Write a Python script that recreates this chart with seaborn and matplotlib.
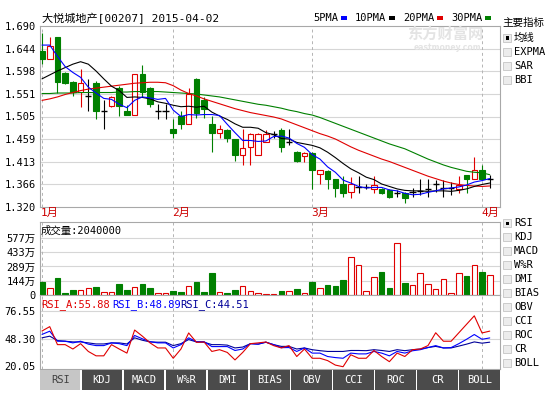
import numpy as np
import pandas as pd
import matplotlib
matplotlib.use("Agg")
import matplotlib.pyplot as plt
from matplotlib.patches import Rectangle
import seaborn as sns

# ---------------- data ----------------
holidays = ["2015-02-19", "2015-02-20"]
dates = [d for d in pd.bdate_range("2015-01-08", "2015-04-02")
         if d.strftime("%Y-%m-%d") not in holidays]

open_ = [1.639, 1.622, 1.668, 1.593, 1.575, 1.556, 1.546, 1.574, 1.517, 1.527,
         1.564, 1.517, 1.508, 1.592, 1.563, 1.516, 1.516, 1.479, 1.507, 1.490,
         1.582, 1.538, 1.489, 1.472, 1.478, 1.460, 1.426, 1.443, 1.426, 1.453,
         1.470, 1.478, 1.453, 1.432, 1.424, 1.431, 1.387, 1.394, 1.377, 1.367,
         1.350, 1.360, 1.360, 1.356, 1.356, 1.355, 1.349, 1.348, 1.351, 1.353,
         1.356, 1.368, 1.358, 1.358, 1.356, 1.385, 1.378, 1.395, 1.377]
high = [1.676, 1.668, 1.668, 1.595, 1.577, 1.602, 1.582, 1.578, 1.538, 1.546,
        1.568, 1.529, 1.592, 1.611, 1.565, 1.531, 1.531, 1.500, 1.517, 1.563,
        1.584, 1.544, 1.507, 1.488, 1.480, 1.460, 1.480, 1.471, 1.471, 1.478,
        1.476, 1.481, 1.480, 1.434, 1.432, 1.432, 1.396, 1.396, 1.378, 1.383,
        1.382, 1.383, 1.368, 1.383, 1.358, 1.356, 1.355, 1.350, 1.358, 1.378,
        1.378, 1.376, 1.375, 1.372, 1.383, 1.386, 1.422, 1.405, 1.385]
low = [1.612, 1.622, 1.554, 1.572, 1.546, 1.525, 1.517, 1.499, 1.480, 1.525,
       1.507, 1.508, 1.508, 1.544, 1.525, 1.499, 1.499, 1.462, 1.480, 1.490,
       1.501, 1.501, 1.432, 1.462, 1.453, 1.414, 1.405, 1.405, 1.426, 1.453,
       1.462, 1.432, 1.446, 1.412, 1.412, 1.356, 1.368, 1.356, 1.341, 1.340,
       1.339, 1.349, 1.356, 1.349, 1.346, 1.339, 1.341, 1.329, 1.341, 1.344,
       1.341, 1.351, 1.341, 1.345, 1.348, 1.348, 1.377, 1.376, 1.358]
close = [1.622, 1.649, 1.575, 1.574, 1.555, 1.574, 1.546, 1.517, 1.517, 1.544,
         1.527, 1.508, 1.592, 1.555, 1.531, 1.516, 1.516, 1.472, 1.489, 1.552,
         1.513, 1.521, 1.472, 1.479, 1.462, 1.426, 1.441, 1.470, 1.470, 1.470,
         1.470, 1.443, 1.453, 1.414, 1.431, 1.395, 1.395, 1.377, 1.358, 1.349,
         1.367, 1.360, 1.360, 1.365, 1.348, 1.340, 1.349, 1.338, 1.351, 1.353,
         1.356, 1.368, 1.358, 1.358, 1.365, 1.377, 1.395, 1.377, 1.377]
volume_wan = [127, 75, 168, 25, 52, 52, 75, 85, 31, 31,
              116, 52, 85, 116, 75, 20, 20, 38, 31, 93,
              127, 31, 227, 31, 20, 52, 93, 38, 20, 15,
              15, 41, 41, 65, 20, 127, 75, 103, 96, 152,
              385, 303, 36, 181, 232, 67, 530, 123, 105, 221,
              108, 64, 167, 25, 226, 191, 301, 232, 204]
ma5 = [1.651, 1.651, 1.628, 1.607, 1.595, 1.585, 1.565, 1.553, 1.542, 1.540,
       1.530, 1.523, 1.538, 1.545, 1.543, 1.540, 1.542, 1.518, 1.505, 1.509,
       1.508, 1.509, 1.509, 1.507, 1.489, 1.472, 1.456, 1.456, 1.454, 1.455,
       1.464, 1.465, 1.461, 1.450, 1.442, 1.427, 1.418, 1.402, 1.391, 1.375,
       1.369, 1.362, 1.359, 1.360, 1.360, 1.355, 1.353, 1.348, 1.345, 1.346,
       1.350, 1.353, 1.357, 1.359, 1.361, 1.365, 1.371, 1.374, 1.378]
ma10 = [1.582, 1.590, 1.598, 1.605, 1.612, 1.617, 1.612, 1.598, 1.582, 1.567,
        1.558, 1.544, 1.545, 1.544, 1.541, 1.535, 1.532, 1.528, 1.525, 1.526,
        1.524, 1.526, 1.514, 1.506, 1.499, 1.490, 1.483, 1.483, 1.481, 1.472,
        1.468, 1.460, 1.459, 1.452, 1.449, 1.446, 1.441, 1.432, 1.421, 1.409,
        1.398, 1.390, 1.381, 1.376, 1.367, 1.362, 1.357, 1.354, 1.353, 1.353,
        1.352, 1.353, 1.353, 1.352, 1.354, 1.357, 1.362, 1.366, 1.369]
ma20 = [1.538, 1.541, 1.545, 1.550, 1.554, 1.558, 1.561, 1.563, 1.565, 1.567,
        1.569, 1.571, 1.573, 1.574, 1.575, 1.575, 1.574, 1.568, 1.559, 1.552,
        1.547, 1.541, 1.536, 1.531, 1.526, 1.521, 1.517, 1.513, 1.510, 1.507,
        1.504, 1.500, 1.494, 1.488, 1.482, 1.476, 1.470, 1.465, 1.459, 1.451,
        1.443, 1.436, 1.430, 1.424, 1.418, 1.413, 1.407, 1.401, 1.395, 1.389,
        1.383, 1.378, 1.373, 1.369, 1.366, 1.364, 1.363, 1.362, 1.363]
ma30 = [1.552, 1.552, 1.553, 1.553, 1.553, 1.554, 1.554, 1.554, 1.554, 1.554,
        1.555, 1.555, 1.556, 1.556, 1.556, 1.556, 1.555, 1.554, 1.553, 1.552,
        1.551, 1.549, 1.547, 1.545, 1.542, 1.539, 1.536, 1.533, 1.530, 1.528,
        1.525, 1.522, 1.518, 1.515, 1.511, 1.508, 1.503, 1.497, 1.491, 1.485,
        1.479, 1.473, 1.467, 1.461, 1.455, 1.449, 1.444, 1.439, 1.432, 1.425,
        1.418, 1.412, 1.406, 1.401, 1.397, 1.393, 1.391, 1.390, 1.386]
rsi_a = [56.0, 60.5, 42.0, 42.0, 37.5, 43.0, 35.0, 30.5, 30.5, 42.0,
         37.5, 33.3, 57.0, 50.7, 43.8, 38.6, 38.6, 28.0, 37.5, 54.0,
         44.4, 44.7, 35.0, 36.8, 34.0, 26.3, 34.0, 43.0, 43.8, 44.7,
         41.0, 38.6, 41.0, 29.8, 37.5, 28.0, 28.0, 25.6, 21.0, 19.3,
         31.6, 28.0, 28.0, 36.0, 29.8, 24.5, 33.3, 29.8, 36.8, 37.5,
         41.0, 54.2, 45.5, 45.5, 54.2, 62.9, 71.6, 54.0, 55.88]
rsi_b = [52.5, 55.8, 45.5, 45.5, 43.8, 45.5, 42.5, 41.0, 41.0, 43.8,
         43.0, 41.0, 51.4, 48.0, 45.0, 43.8, 43.8, 38.6, 42.0, 49.0,
         45.0, 45.0, 40.0, 40.0, 40.0, 36.0, 37.5, 43.0, 42.5, 44.5,
         42.0, 38.9, 39.0, 35.0, 38.6, 33.3, 33.3, 29.8, 28.7, 28.0,
         33.3, 32.5, 32.5, 35.0, 33.3, 30.5, 35.0, 33.3, 35.7, 36.8,
         39.0, 41.0, 38.6, 39.0, 43.0, 47.5, 52.4, 47.5, 48.89]
rsi_c = [49.0, 50.7, 46.2, 45.5, 44.8, 44.8, 43.8, 42.7, 42.7, 43.8,
         43.8, 42.7, 49.0, 46.5, 44.8, 44.5, 44.5, 41.0, 43.0, 47.2,
         44.8, 44.5, 42.0, 42.0, 41.5, 38.6, 39.5, 43.0, 42.5, 44.5,
         42.0, 40.2, 40.2, 37.5, 38.6, 36.8, 35.8, 35.0, 35.0, 35.0,
         36.0, 36.0, 35.8, 36.8, 36.0, 35.0, 36.8, 35.8, 36.8, 37.5,
         39.0, 40.2, 38.6, 38.6, 40.5, 42.5, 44.8, 43.5, 44.51]

price_ticks = [1.320, 1.36625, 1.4125, 1.45875, 1.505, 1.55125, 1.5975, 1.64375, 1.690]
price_tick_labels = ["1.320", "1.366", "1.413", "1.459", "1.505", "1.551", "1.598", "1.644", "1.690"]
vol_ticks = [0, 144, 289, 433, 577]
vol_tick_labels = ["0", "144万", "289万", "433万", "577万"]
rsi_ticks = [20.05, 48.30, 76.55]
rsi_tick_labels = ["20.05", "48.30", "76.55"]

title_text = "大悦城地产[00207] 2015-04-02"
ma_names = ["5PMA", "10PMA", "20PMA", "30PMA"]
volume_text = "成交量:2040000"
rsi_names = ["RSI_A:55.88", "RSI_B:48.89", "RSI_C:44.51"]
tabs = ["RSI", "KDJ", "MACD", "W%R", "DMI", "BIAS", "OBV", "CCI", "ROC", "CR", "BOLL"]
main_items = ["均线", "EXPMA", "SAR", "BBI"]
sub_items = ["RSI", "KDJ", "MACD", "W%R", "DMI", "BIAS", "OBV", "CCI", "ROC", "CR", "BOLL"]

# ---------------- style ----------------
sns.set_theme(style="white")
plt.rcParams["font.family"] = ["DejaVu Sans Mono", "Noto Sans CJK SC"]
plt.rcParams["axes.unicode_minus"] = False

GREEN = "#008000"
RED = "#e00000"
BLUE = "#0000ff"
NAVY = "#000099"
GRID = "#d6d6d6"
FRAME = "#a8a8a8"
MA_COLORS = [BLUE, "black", RED, GREEN]

W, H = 546, 395
fig = plt.figure(figsize=(W / 100, H / 100), dpi=100)
fig.patch.set_facecolor("white")


def fx(px):
    return px / W


def fy(py):
    return 1 - py / H


def add_ax(left, top, right, bottom):
    return fig.add_axes([fx(left), fy(bottom), (right - left) / W, (bottom - top) / H])


ax_p = add_ax(40, 26, 500, 207)
ax_v = add_ax(40, 222, 500, 295)
ax_r = add_ax(40, 295, 500, 369)

n = len(close)
xs = np.arange(n)
month_idx = [i for i in range(n) if i == 0 or dates[i].month != dates[i - 1].month]

for ax in (ax_p, ax_v, ax_r):
    ax.set_facecolor("white")
    ax.set_xlim(-0.26, n - 1 + 1.33)
    ax.set_xticks([])
    for s in ax.spines.values():
        s.set_color(FRAME)
        s.set_linewidth(0.8)
    ax.tick_params(axis="y", length=0, pad=3, labelsize=7.5, colors="black")
    for m in month_idx:
        ax.axvline(m, color="#b4b4b4", lw=0.7, ls=(0, (3, 3)), zorder=1)

# ---------------- price panel ----------------
ax_p.set_ylim(1.320, 1.690)
ax_p.set_yticks(price_ticks)
ax_p.set_yticklabels(price_tick_labels)
for t in price_ticks[1:-1]:
    ax_p.axhline(t, color=GRID, lw=0.8, zorder=0)

for i in range(n):
    o, h, l, c = open_[i], high[i], low[i], close[i]
    if c > o:
        col, face = RED, "white"
    elif c < o:
        col, face = GREEN, GREEN
    else:
        col, face = "black", None
    ax_p.vlines(i, l, h, color=col, lw=0.8, zorder=3)
    if face is None:
        ax_p.hlines(o, i - 0.4, i + 0.4, color=col, lw=1.0, zorder=4)
    else:
        ax_p.bar(i, max(abs(c - o), 0.0008), bottom=min(o, c), width=0.72,
                 facecolor=face, edgecolor=col, lw=0.8, zorder=4)

for vals, colr in zip([ma30, ma20, ma10, ma5], [GREEN, RED, "black", BLUE]):
    sns.lineplot(x=xs, y=vals, ax=ax_p, color=colr, lw=0.8, legend=False, zorder=5)
ax_p.set_xlabel("")
ax_p.set_ylabel("")

# ---------------- volume panel ----------------
ax_v.set_ylim(0, 739)
ax_v.set_yticks(vol_ticks)
ax_v.set_yticklabels(vol_tick_labels)
for t in vol_ticks[1:]:
    ax_v.axhline(t, color=GRID, lw=0.8, zorder=0)
for i in range(n):
    up = close[i] >= open_[i]
    ax_v.bar(i, volume_wan[i], width=0.72,
             facecolor="white" if up else GREEN,
             edgecolor=RED if up else GREEN, lw=0.8, zorder=3)
ax_v.text(0.002, 0.88, volume_text, transform=ax_v.transAxes, fontsize=7.5,
          ha="left", va="center", color="black")

# ---------------- RSI panel ----------------
ax_r.set_ylim(16.97, 92.99)
ax_r.set_yticks(rsi_ticks)
ax_r.set_yticklabels(rsi_tick_labels)
for t in rsi_ticks[1:]:
    ax_r.axhline(t, color=GRID, lw=0.8, zorder=0)
for vals, colr in zip([rsi_c, rsi_b, rsi_a], [NAVY, BLUE, RED]):
    sns.lineplot(x=xs, y=vals, ax=ax_r, color=colr, lw=0.8, legend=False, zorder=4)
ax_r.set_xlabel("")
ax_r.set_ylabel("")
for name, colr, px in zip(rsi_names, [RED, BLUE, NAVY], [41, 112, 180]):
    fig.text(fx(px), fy(305), name, fontsize=7.5, color=colr, ha="left", va="center")

# ---------------- texts around ----------------
fig.text(fx(42), fy(18), title_text, fontsize=8, ha="left", va="center", color="black")

legend_x = [313, 355, 403, 451]
for name, colr, px in zip(ma_names, MA_COLORS, legend_x):
    fig.text(fx(px), fy(18), name, fontsize=7.5, ha="left", va="center", color="black")
    wpx = len(name) * 6.25
    fig.patches.append(Rectangle((fx(px + wpx + 3), fy(19.5)), 6 / W, 3 / H,
                                 transform=fig.transFigure, facecolor=colr,
                                 edgecolor="none"))

for m in month_idx:
    xpx = 42 + m * 7.72 - 1
    fig.text(fx(xpx), fy(213), f"{dates[m].month}月", fontsize=8, color="#cc0000",
             ha="left", va="center")

# watermark
fig.text(fx(445), fy(34), "东方财富网", fontsize=11, color="#e4e4e4", ha="center",
         va="center", fontweight="bold", family=["Noto Sans CJK SC"])
fig.text(fx(447), fy(47), "eastmoney.com", fontsize=5.5, color="#e4e4e4", ha="center",
         va="center", fontweight="bold", family=["DejaVu Sans"])

# tabs
tab_w = (501 - 40) / len(tabs)
for k, name in enumerate(tabs):
    x0 = 40 + k * tab_w
    active = k == 0
    fig.patches.append(Rectangle((fx(x0), fy(390)), (tab_w - 1.5) / W, 20 / H,
                                 transform=fig.transFigure,
                                 facecolor="#c6c6c6" if active else "#4b4b4b",
                                 edgecolor="none"))
    fig.text(fx(x0 + (tab_w - 1.5) / 2), fy(380), name, fontsize=7.5,
             color="#404040" if active else "white", ha="center", va="center")

# right side selectors
fig.text(fx(502), fy(23), "主要指标", fontsize=7.6, ha="left", va="center", color="black",
         family=["Noto Sans CJK SC"])


def checkbox(ycen, label, checked):
    fig.patches.append(Rectangle((fx(503), fy(ycen + 4)), 8 / W, 8 / H,
                                 transform=fig.transFigure, facecolor="#ececec",
                                 edgecolor="#c4c4c4", lw=0.6))
    if checked:
        fig.patches.append(Rectangle((fx(505.5), fy(ycen + 1.5)), 3 / W, 3 / H,
                                     transform=fig.transFigure, facecolor="black",
                                     edgecolor="none"))
    fig.text(fx(514), fy(ycen), label, fontsize=7.5, ha="left", va="center", color="black")


for k, lab in enumerate(main_items):
    checkbox(38 + k * 14, lab, k == 0)
for k, lab in enumerate(sub_items):
    checkbox(223 + k * 14, lab, k == 0)

fig.savefig("out.png", dpi=100, facecolor="white")
